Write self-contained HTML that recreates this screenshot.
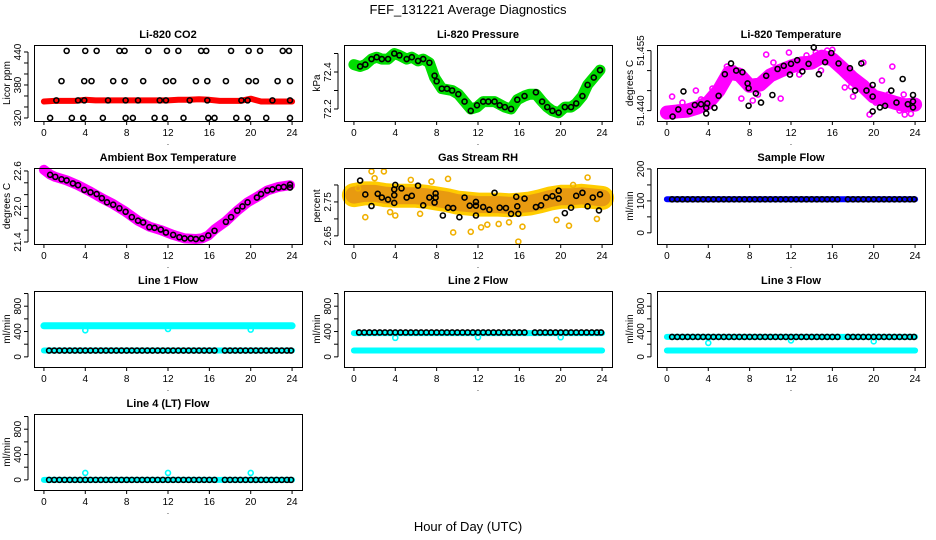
<!DOCTYPE html>
<html><head><meta charset="utf-8"><style>
html,body{margin:0;padding:0;background:#fff;}
svg{display:block;font-family:"Liberation Sans",sans-serif;}
</style></head><body>
<svg id="chart" width="936" height="540" viewBox="0 0 936 540">
<text x="468" y="14" text-anchor="middle" font-size="13">FEF_131221  Average Diagnostics</text>
<text x="468" y="531" text-anchor="middle" font-size="13">Hour of Day (UTC)</text>
</svg>
<script>
// ---- data ----
const co2Hours = [2.2,4.0,5.1,7.3,7.8,10.1,11.9,13.0,15.2,15.7,18.1,19.8,20.9,23.1,23.7, 1.7,3.9,4.6,6.7,7.8,9.6,11.8,12.5,14.7,15.8,17.6,19.8,20.5,22.6,23.8, 1.2,3.3,3.9,6.2,7.9,9.1,11.2,11.8,14.1,15.8,19.1,19.7,22.1,23.8, 0.6,2.7,3.8,5.7,7.9,8.6,10.7,11.7,13.5,15.9,16.5,18.6,19.7,21.5,23.8];
const co2Values = [442,442,442,442,442,442,442,442,442,442,442,442,442,442,442, 387,387,387,387,387,387,387,387,387,387,387,387,387,387,387, 352,352,352,352,352,352,352,352,352,352,352,352,352,352, 320,320,320,320,320,320,320,320,320,320,320,320,320,320,320];
const bandHours = [0,1,2,3,4,5,6,7,8,9,10,11,12,13,14,15,16,17,18,19,20,21,22,23,24];
const co2Band = [350,351,351,351,353,352,352,352,352,352,352,352,352,353,353,354,353,351,351,351,355,350,350,350,350];

const presHours = [0.6,1.1,1.7,2.2,2.7,3.3,3.9,4.4,5.1,5.6,6.2,6.7,7.3,7.8,8.0,8.5,9.0,9.5,10.1,10.7,11.3,11.9,12.5,13.0,13.6,14.1,14.6,15.2,15.8,16.5,17.6,18.2,18.7,19.2,19.8,20.4,21.0,21.5,22.1,22.6,23.2,23.8];
const presValues = [72.43,72.44,72.47,72.48,72.47,72.47,72.50,72.49,72.47,72.48,72.46,72.47,72.45,72.38,72.35,72.31,72.31,72.30,72.28,72.24,72.19,72.22,72.24,72.24,72.24,72.22,72.21,72.20,72.25,72.27,72.29,72.24,72.21,72.19,72.18,72.21,72.21,72.23,72.27,72.33,72.37,72.41];
const presBandH = [0,0.6,1.1,1.7,2.2,2.7,3.3,3.9,4.4,5.1,5.6,6.2,6.7,7.3,7.8,8.5,9.5,10.1,10.7,11.3,11.9,12.5,13.6,14.6,15.2,15.8,16.5,17.0,17.6,18.2,18.7,19.2,19.8,20.4,21.0,21.5,22.1,22.6,23.2,23.8];
const presBand = [72.44,72.43,72.44,72.47,72.48,72.47,72.47,72.50,72.49,72.47,72.48,72.46,72.47,72.45,72.37,72.31,72.30,72.28,72.24,72.20,72.21,72.24,72.24,72.21,72.20,72.25,72.27,72.28,72.28,72.24,72.21,72.19,72.18,72.21,72.21,72.23,72.27,72.33,72.37,72.41];

const tempHours = [0.55,1.1,2.2,1.6,2.7,3.3,3.8,3.8,3.9,4.6,5.0,5.6,6.2,6.7,7.3,7.8,7.9,7.9,8.6,9.1,9.6,10.2,10.7,11.3,11.9,12.0,12.6,13.1,13.7,14.2,14.7,15.3,15.9,16.6,17.7,18.2,18.8,19.3,19.9,19.9,19.9,20.6,21.1,21.7,22.2,22.8,23.3,23.8,23.8,23.8];
const tempValues = [51.4385,51.4403,51.4398,51.4448,51.4414,51.4416,51.4407,51.4393,51.4418,51.4407,51.4437,51.4491,51.4518,51.4500,51.4496,51.4468,51.4456,51.4412,51.4443,51.4420,51.4487,51.4439,51.4504,51.4512,51.4490,51.4517,51.4526,51.4498,51.4517,51.4558,51.4491,51.4521,51.4544,51.4518,51.4506,51.4450,51.4518,51.4450,51.4464,51.4435,51.4398,51.4408,51.4412,51.4450,51.4420,51.4479,51.4416,51.4439,51.4408,51.4423];
const tempBand = [51.4395,51.4398,51.4400,51.4408,51.4420,51.4450,51.4495,51.4490,51.4462,51.4465,51.4488,51.4500,51.4510,51.4518,51.4520,51.4535,51.4528,51.4505,51.4480,51.4460,51.4435,51.4428,51.4420,51.4413,51.4415];
const tempOutH = [0.5,1.5,3.3,5.3,6.0,6.5,7.2,8.3,9.6,10.3,11.0,11.8,13.5,14.4,15.5,16.0,17.2,18.0,19.0,19.6,20.8,21.8,22.5,23.0,23.6,2.8,4.4,5.8,8.8,9.2,12.8,14.9,17.8,18.6,20.2,21.4,22.9];
const tempOut = [51.4435,51.4420,51.4428,51.4470,51.4495,51.4505,51.4430,51.4425,51.4540,51.4520,51.4430,51.4545,51.4538,51.4545,51.4550,51.4552,51.4458,51.4435,51.4520,51.4390,51.4475,51.4510,51.4400,51.4390,51.4392,51.4450,51.4455,51.4510,51.4440,51.4470,51.4490,51.4500,51.4460,51.4460,51.4420,51.4440,51.4440];

const ambHours = [0.6,1.1,1.7,2.2,2.8,3.3,3.9,4.5,5.1,5.6,6.1,6.7,7.3,7.9,8.5,9.1,9.6,10.2,10.7,11.3,11.8,12.5,13.1,13.6,14.2,14.7,15.3,15.9,16.5,17.6,18.1,18.7,19.2,19.7,20.6,21.0,21.6,22.1,22.7,23.2,23.8,23.8];
const ambValues = [22.535,22.50,22.46,22.44,22.39,22.36,22.28,22.24,22.21,22.14,22.07,22.03,21.97,21.91,21.82,21.76,21.73,21.65,21.64,21.61,21.56,21.52,21.48,21.46,21.46,21.45,21.46,21.51,21.59,21.74,21.82,21.93,22.00,22.07,22.15,22.21,22.27,22.29,22.32,22.33,22.37,22.32];
const ambBandH = [0,0.6,1.1,2.2,3.3,4.5,5.6,6.7,7.9,9.1,10.2,11.3,12.5,13.6,14.7,15.3,15.9,16.5,17.6,18.7,19.7,20.6,21.6,22.7,23.8];
const ambBand = [22.62,22.54,22.50,22.44,22.36,22.25,22.14,22.04,21.91,21.76,21.66,21.60,21.52,21.46,21.45,21.46,21.51,21.61,21.75,21.93,22.07,22.16,22.27,22.33,22.36];

const rhHours = [0.6,1.1,1.7,2.3,2.7,3.3,3.9,3.9,3.9,4.0,4.6,5.1,5.6,6.2,6.7,7.3,7.8,7.9,7.9,8.6,9.1,9.6,10.2,10.7,11.2,11.8,11.8,11.8,12.5,13.1,13.6,14.1,14.7,15.2,15.7,15.8,15.9,16.5,17.6,18.1,18.6,19.2,19.8,19.8,20.4,21.0,21.5,22.1,22.6,23.1,23.7,23.8];
const rhValues = [2.813,2.772,2.738,2.774,2.763,2.757,2.787,2.770,2.747,2.800,2.790,2.763,2.768,2.798,2.740,2.763,2.748,2.763,2.775,2.710,2.733,2.732,2.705,2.763,2.739,2.750,2.739,2.710,2.735,2.727,2.777,2.733,2.732,2.715,2.765,2.737,2.715,2.760,2.735,2.740,2.763,2.767,2.783,2.760,2.717,2.733,2.768,2.777,2.737,2.763,2.725,2.772];
const rhBand = [2.770,2.775,2.775,2.770,2.768,2.768,2.768,2.765,2.760,2.755,2.748,2.745,2.742,2.742,2.742,2.740,2.742,2.745,2.752,2.760,2.765,2.765,2.768,2.765,2.762];
const rhOutH = [0.4,1.1,1.7,2.0,2.9,3.5,4.0,5.5,6.4,7.5,9.1,9.6,11.3,12.3,12.9,14.0,15.0,15.9,16.3,19.6,20.8,21.2,22.6,23.5];
const rhOut = [2.790,2.705,2.840,2.820,2.840,2.720,2.710,2.815,2.715,2.810,2.818,2.660,2.662,2.675,2.683,2.685,2.690,2.633,2.677,2.697,2.680,2.800,2.822,2.700];

const flowHours = [0.5,1.0,1.5,2.0,2.5,3.0,3.5,4.0,4.5,5.0,5.5,6.0,6.5,7.0,7.5,8.0,8.5,9.0,9.5,10.0,10.5,11.0,11.5,12.0,12.5,13.0,13.5,14.0,14.5,15.0,15.5,16.0,16.5,17.5,18.0,18.5,19.0,19.5,20.0,20.5,21.0,21.5,22.0,22.5,23.0,23.5,23.9];
const sampleFlowValue = [105];
const line1Black = [100];
const line1CyanHigh = [490];
const line1CyanLow = [100];
const line2Black = [385];
const line2CyanHigh = [375];
const line2CyanLow = [100];
const line3Black = [315];
const line3CyanHigh = [315];
const line3CyanLow = [100];
const line4Black = [0];
const line4Cyan = [0];
const outlierHours = [4,12,20];
const line1Outliers = [420,440,430];
const line2Outliers = [300,310,310];
const line3Outliers = [220,260,245];
const line4Outliers = [110,110,110];

const NS = 'http://www.w3.org/2000/svg';
const svg = document.getElementById('chart');
function el(tag, attrs, parent) {
  const e = document.createElementNS(NS, tag);
  for (const k in attrs) e.setAttribute(k, attrs[k]);
  (parent || svg).appendChild(e);
  return e;
}
const cols = [[34,302],[344,612],[657,925]];
const rows = [[45,121],[168,244],[291,367],[414,490]];

function panel(name, col, row, title, ylab, ylim, ticks, labels) {
  const [x0,x1] = cols[col], [y0,y1] = rows[row];
  const g = el('g', {});
  
  
  const xs = h => x0 + (h + 0.96) / 25.92 * (x1 - x0);
  const ys = v => y1 - (v - ylim[0]) / (ylim[1] - ylim[0]) * (y1 - y0);
  const t = el('text', {x:(x0+x1)/2, y:y0-7, 'text-anchor':'middle', 'font-size':'11', 'font-weight':'bold'}, g);
  t.textContent = title;
  
  
  const yl = el('text', {x:0, y:0, 'text-anchor':'middle', 'font-size':'10', transform:`translate(${x0-24},${(y0+y1)/2}) rotate(-90)`}, g);
  yl.textContent = ylab;
  
  
  const xa = el('g', {}, g);
  
  
  for (let h = 0; h <= 24; h += 4) {
    el('line', {x1:xs(h), x2:xs(h), y1:y1, y2:y1+4, stroke:'#000'}, xa);
    const tl = el('text', {x:xs(h), y:y1+15, 'text-anchor':'middle', 'font-size':'10'}, xa);
    tl.textContent = h;
  }
  const dot = el('text', {x:(x0+x1)/2, y:y1+24, 'text-anchor':'middle', 'font-size':'8'}, g);
  dot.textContent = '.';
  const ya = el('g', {}, g);
  
  
  el('line', {x1:x0-6, x2:x0-6, y1:ys(ticks[0]), y2:ys(ticks[ticks.length-1]), stroke:'#000'}, ya);
  ticks.forEach(v => el('line', {x1:x0-10, x2:x0-6, y1:ys(v), y2:ys(v), stroke:'#000'}, ya));
  labels.forEach(v => {
    const tl = el('text', {x:0, y:0, 'text-anchor':'middle', 'font-size':'10', transform:`translate(${x0-13},${ys(v)}) rotate(-90)`}, ya);
    tl.textContent = v;
  });
  const plot = el('g', {}, g);
  
  
  el('rect', {x:x0+0.5, y:y0+0.5, width:x1-x0, height:y1-y0, fill:'none', stroke:'#000'}, g);
  return {g:plot, xs, ys};
}
function band(p, hs, vs, color, width, name) {
  const d = hs.map((h,i) => (i?'L':'M') + p.xs(h).toFixed(1) + ',' + p.ys(vs[i]).toFixed(1)).join('');
  const path = el('path', {d, fill:'none', stroke:color, 'stroke-width':width, 'stroke-linejoin':'round', 'stroke-linecap':'round'}, p.g);
  
  
}
function pts(p, hs, vs, color, name, r, sw) {
  const g = el('g', {}, p.g);
  
  
  hs.forEach((h,i) => {
    const v = vs.length === 1 ? vs[0] : vs[i];
    el('circle', {cx:p.xs(h), cy:p.ys(v), r:r||2.5, fill:'none', stroke:color, 'stroke-width':sw||1.6}, g);
  });
}
function flat(p, value, color, width, name) {
  band(p, [0,24], [value[0], value[0]], color, width, name);
}

let p = panel('co2', 0, 0, 'Li-820 CO2', 'Licor ppm', [314.5,452.7], [320,340,360,380,400,420,440], [320,380,440]);
band(p, bandHours, co2Band, '#ff0000', 6, 'co2-band');
pts(p, co2Hours, co2Values, '#000', 'co2-hourly-points');
p = panel('pressure', 1, 0, 'Li-820 Pressure', 'kPa', [72.135,72.546], [72.2,72.3,72.4,72.5], [72.2,72.4]);
band(p, presBandH, presBand, '#00dd00', 11, 'pressure-band');
pts(p, presHours, presValues, '#000', 'pressure-hourly-points');
p = panel('li820-temp', 2, 0, 'Li-820 Temperature', 'degrees C', [51.4374,51.4564], [51.440,51.445,51.450,51.455], ['51.440','51.455']);
band(p, bandHours, tempBand, '#ff00ff', 14, 'li820-temp-band');
pts(p, tempOutH, tempOut, '#ff00ff', 'li820-temp-raw-points');
pts(p, tempHours, tempValues, '#000', 'li820-temp-hourly-points');
p = panel('ambient-temp', 0, 1, 'Ambient Box Temperature', 'degrees C', [21.366,22.65], [21.4,21.6,21.8,22.0,22.2,22.4,22.6], ['21.4','22.0','22.6']);
band(p, ambBandH, ambBand, '#ff00ff', 10, 'ambient-temp-band');
pts(p, ambHours, ambValues, '#000', 'ambient-temp-hourly-points');
p = panel('gas-rh', 1, 1, 'Gas Stream RH', 'percent', [2.626,2.85], [2.65,2.70,2.75,2.80], ['2.65','2.75']);
band(p, bandHours, rhBand, '#ffcc00', 24, 'gas-rh-band-outer');
band(p, bandHours, rhBand, '#e89a10', 17, 'gas-rh-band');
pts(p, rhOutH, rhOut, '#f0b000', 'gas-rh-raw-points');
pts(p, rhHours, rhValues, '#000', 'gas-rh-hourly-points');
p = panel('sample-flow', 2, 1, 'Sample Flow', 'ml/min', [-35,203], [0,50,100,150,200], [0,100,200]);
flat(p, sampleFlowValue, '#0000ff', 6, 'sample-flow-band');
pts(p, flowHours, sampleFlowValue, '#000', 'sample-flow-hourly-points');
const fl = [-160,1040], ft = [0,200,400,600,800,1000], flb = [0,400,800];
p = panel('line1-flow', 0, 2, 'Line 1 Flow', 'ml/min', fl, ft, flb);
flat(p, line1CyanHigh, '#00ffff', 7, 'line1-cyan-high');
flat(p, line1CyanLow, '#00ffff', 6, 'line1-cyan-low');
pts(p, outlierHours, line1Outliers, '#00ffff', 'line1-outliers');
pts(p, flowHours, line1Black, '#000', 'line1-hourly-points');
p = panel('line2-flow', 1, 2, 'Line 2 Flow', 'ml/min', fl, ft, flb);
flat(p, line2CyanHigh, '#00ffff', 6, 'line2-cyan-high');
flat(p, line2CyanLow, '#00ffff', 6, 'line2-cyan-low');
pts(p, outlierHours, line2Outliers, '#00ffff', 'line2-outliers');
pts(p, flowHours, line2Black, '#000', 'line2-hourly-points');
p = panel('line3-flow', 2, 2, 'Line 3 Flow', 'ml/min', fl, ft, flb);
flat(p, line3CyanHigh, '#00ffff', 6, 'line3-cyan-high');
flat(p, line3CyanLow, '#00ffff', 6, 'line3-cyan-low');
pts(p, outlierHours, line3Outliers, '#00ffff', 'line3-outliers');
pts(p, flowHours, line3Black, '#000', 'line3-hourly-points');
p = panel('line4-flow', 0, 3, 'Line 4 (LT) Flow', 'ml/min', fl, ft, flb);
flat(p, line4Cyan, '#00ffff', 6, 'line4-cyan');
pts(p, outlierHours, line4Outliers, '#00ffff', 'line4-outliers');
pts(p, flowHours, line4Black, '#000', 'line4-hourly-points');
</script>
</body></html>
